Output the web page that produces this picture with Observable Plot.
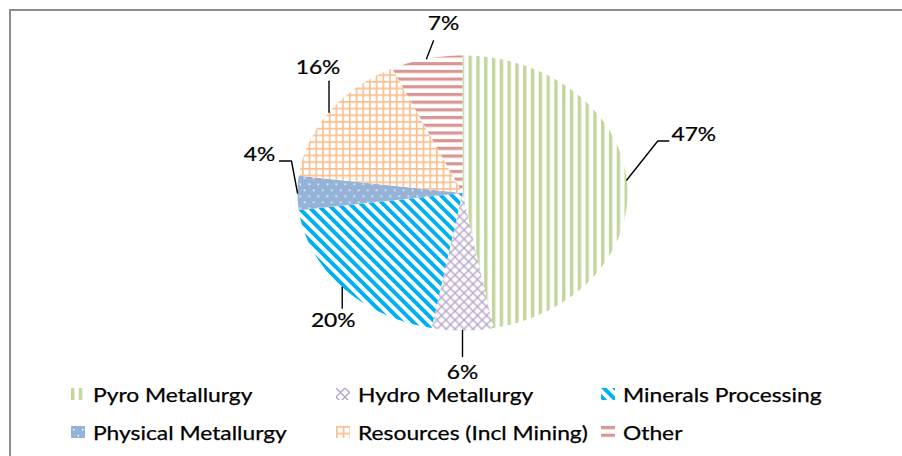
<!DOCTYPE html>
<html>
<head>
<meta charset="utf-8">
<script src="https://cdn.jsdelivr.net/npm/d3@7"></script>
<script src="https://cdn.jsdelivr.net/npm/@observablehq/plot@0.6"></script>
<style>
  html, body { margin: 0; padding: 0; background: #fff; }
  body { width: 902px; height: 456px; position: relative; overflow: hidden; font-family: "Lato", sans-serif; }
  #frame { position: absolute; left: 9px; top: 9px; width: 900px; height: 460px;
           border-top: 2px solid #8c8c8c; border-left: 2px solid #8c8c8c; box-sizing: border-box; }
  #chart { position: absolute; left: 0; top: 0; }
  #legend { position: absolute; left: 71px; top: 375px; display: grid;
            grid-template-columns: 265px 265px 265px; grid-auto-rows: 38px; }
  .item { display: flex; align-items: center; height: 38px; }
  .item svg { flex: none; margin-right: 8px; }
  .item span { display: inline-block; font-size: 19px; color: #000; white-space: nowrap;
               -webkit-text-stroke: 0.25px #000;
               transform: scaleX(1.2); transform-origin: left center; }
</style>
</head>
<body>
<svg width="0" height="0" style="position:absolute">
  <defs>
    <pattern id="pPyro" patternUnits="userSpaceOnUse" width="7.8" height="8">
      <rect width="7.8" height="8" fill="#fff"/>
      <rect x="0" width="3.4" height="8" fill="#c3d69b"/>
    </pattern>
    <pattern id="pHydro" patternUnits="userSpaceOnUse" width="9" height="9">
      <rect width="9" height="9" fill="#fff"/>
      <path d="M0,0L9,9M9,0L0,9" stroke="#b3a2c7" stroke-width="1.3"/>
    </pattern>
    <pattern id="pMin" patternUnits="userSpaceOnUse" width="7.8" height="10" patternTransform="rotate(-45)">
      <rect width="7.8" height="10" fill="#fff"/>
      <rect x="0" width="3.9" height="10" fill="#00b0f0"/>
    </pattern>
    <pattern id="pPhys" patternUnits="userSpaceOnUse" width="9" height="12">
      <rect width="9" height="12" fill="#95b3d7"/>
      <rect x="2" y="3" width="1.5" height="1.5" fill="#fff"/>
      <rect x="6.5" y="9" width="1.5" height="1.5" fill="#fff"/>
    </pattern>
    <pattern id="pRes" patternUnits="userSpaceOnUse" width="6.7" height="6.7">
      <rect width="6.7" height="6.7" fill="#fff"/>
      <rect x="0" y="0" width="1.7" height="6.7" fill="#fac090"/>
      <rect x="0" y="0" width="6.7" height="1.7" fill="#fac090"/>
    </pattern>
    <pattern id="pOther" patternUnits="userSpaceOnUse" width="8" height="7.7">
      <rect width="8" height="7.7" fill="#fff"/>
      <rect y="0" width="8" height="3.2" fill="#d99694"/>
    </pattern>
  </defs>
</svg>
<div id="frame"></div>
<div id="chart"></div>
<div id="legend"></div>
<script>
// ---- data ----
const categories = ["Pyro Metallurgy", "Hydro Metallurgy", "Minerals Processing",
                    "Physical Metallurgy", "Resources (Incl Mining)", "Other"];
const shares = [47, 6, 20, 4, 16, 7];
const pctLabels = ["47%", "6%", "20%", "4%", "16%", "7%"];

// ---- styling / layout ----
const patternIds = ["pPyro", "pHydro", "pMin", "pPhys", "pRes", "pOther"];
const X_RANGE = [297, 627];
const Y_RANGE = [330, 55];
// leader lines and labels: pixel offsets from each slice's outer mid point
const labelLayout = [
  {path: [[31, -39], [42, -39]], label: [67, -45]},
  {path: [[0, 26]], label: [0, 42]},
  {path: [[0, 21]], label: [-9, 34]},
  {path: [[-6, -32], [-18, -32]], label: [-38, -38]},
  {path: [[0, -31]], label: [-11, -44]},
  {path: [[7, -18]], label: [17, -35]}
];
const FONT = "Lato, sans-serif";
const FONT_SIZE = 19;

// ---- geometry from the data ----
const arcs = d3.pie().sort(null).value(d => d)(shares);
const kx = (X_RANGE[1] - X_RANGE[0]) / 2;
const ky = (Y_RANGE[0] - Y_RANGE[1]) / 2;

const slicePoints = arcs.map((a, i) => {
  const pts = [{x: 0, y: 0}];
  const n = Math.max(2, Math.ceil((a.endAngle - a.startAngle) / (Math.PI / 180)));
  for (let k = 0; k <= n; k++) {
    const t = a.startAngle + (a.endAngle - a.startAngle) * k / n;
    pts.push({x: Math.sin(t), y: Math.cos(t)});
  }
  pts.push({x: 0, y: 0});
  return pts;
});

const anchors = arcs.map((a, i) => {
  const m = (a.startAngle + a.endAngle) / 2;
  return {x: Math.sin(m), y: Math.cos(m), label: pctLabels[i], cat: categories[i]};
});

const leaderLines = anchors.map((p, i) => [
  {x: p.x, y: p.y},
  ...labelLayout[i].path.map(([dx, dy]) => ({x: p.x + dx / kx, y: p.y - dy / ky}))
]);

const marks = [];
slicePoints.forEach((pts, i) => {
  marks.push(Plot.line(pts, {x: "x", y: "y", fill: `url(#${patternIds[i]})`, stroke: "none"}));
});
leaderLines.forEach(pts => {
  marks.push(Plot.line(pts, {x: "x", y: "y", stroke: "#000", strokeWidth: 1.4}));
});
anchors.forEach((p, i) => {
  marks.push(Plot.text([p], {x: "x", y: "y", text: "label",
    dx: labelLayout[i].label[0], dy: labelLayout[i].label[1],
    fontSize: FONT_SIZE, fontFamily: FONT, fill: "#000",
    stroke: "#000", strokeWidth: 0.25,
    textAnchor: "middle", lineAnchor: "middle"}));
});

const chart = Plot.plot({
  width: 902,
  height: 456,
  margin: 0,
  x: {domain: [-1, 1], range: X_RANGE, axis: null},
  y: {domain: [-1, 1], range: Y_RANGE, axis: null},
  marks
});
chart.style.background = "transparent";
// horizontal stretch of the label text, as in the reference
d3.select(chart).selectAll("text").each(function () {
  const el = d3.select(this);
  const x = +el.attr("x") || 0;
  const t = el.attr("transform") || "";
  el.attr("transform", `${t} translate(${x},0) scale(1.2,1) translate(${-x},0)`);
});
document.getElementById("chart").appendChild(chart);

// ---- legend ----
const legend = d3.select("#legend");
categories.forEach((c, i) => {
  const it = legend.append("div").attr("class", "item");
  const s = it.append("svg").attr("width", 14).attr("height", 12);
  s.append("rect").attr("width", 14).attr("height", 12).attr("fill", `url(#${patternIds[i]})`);
  it.append("span").text(c);
});
</script>
</body>
</html>
